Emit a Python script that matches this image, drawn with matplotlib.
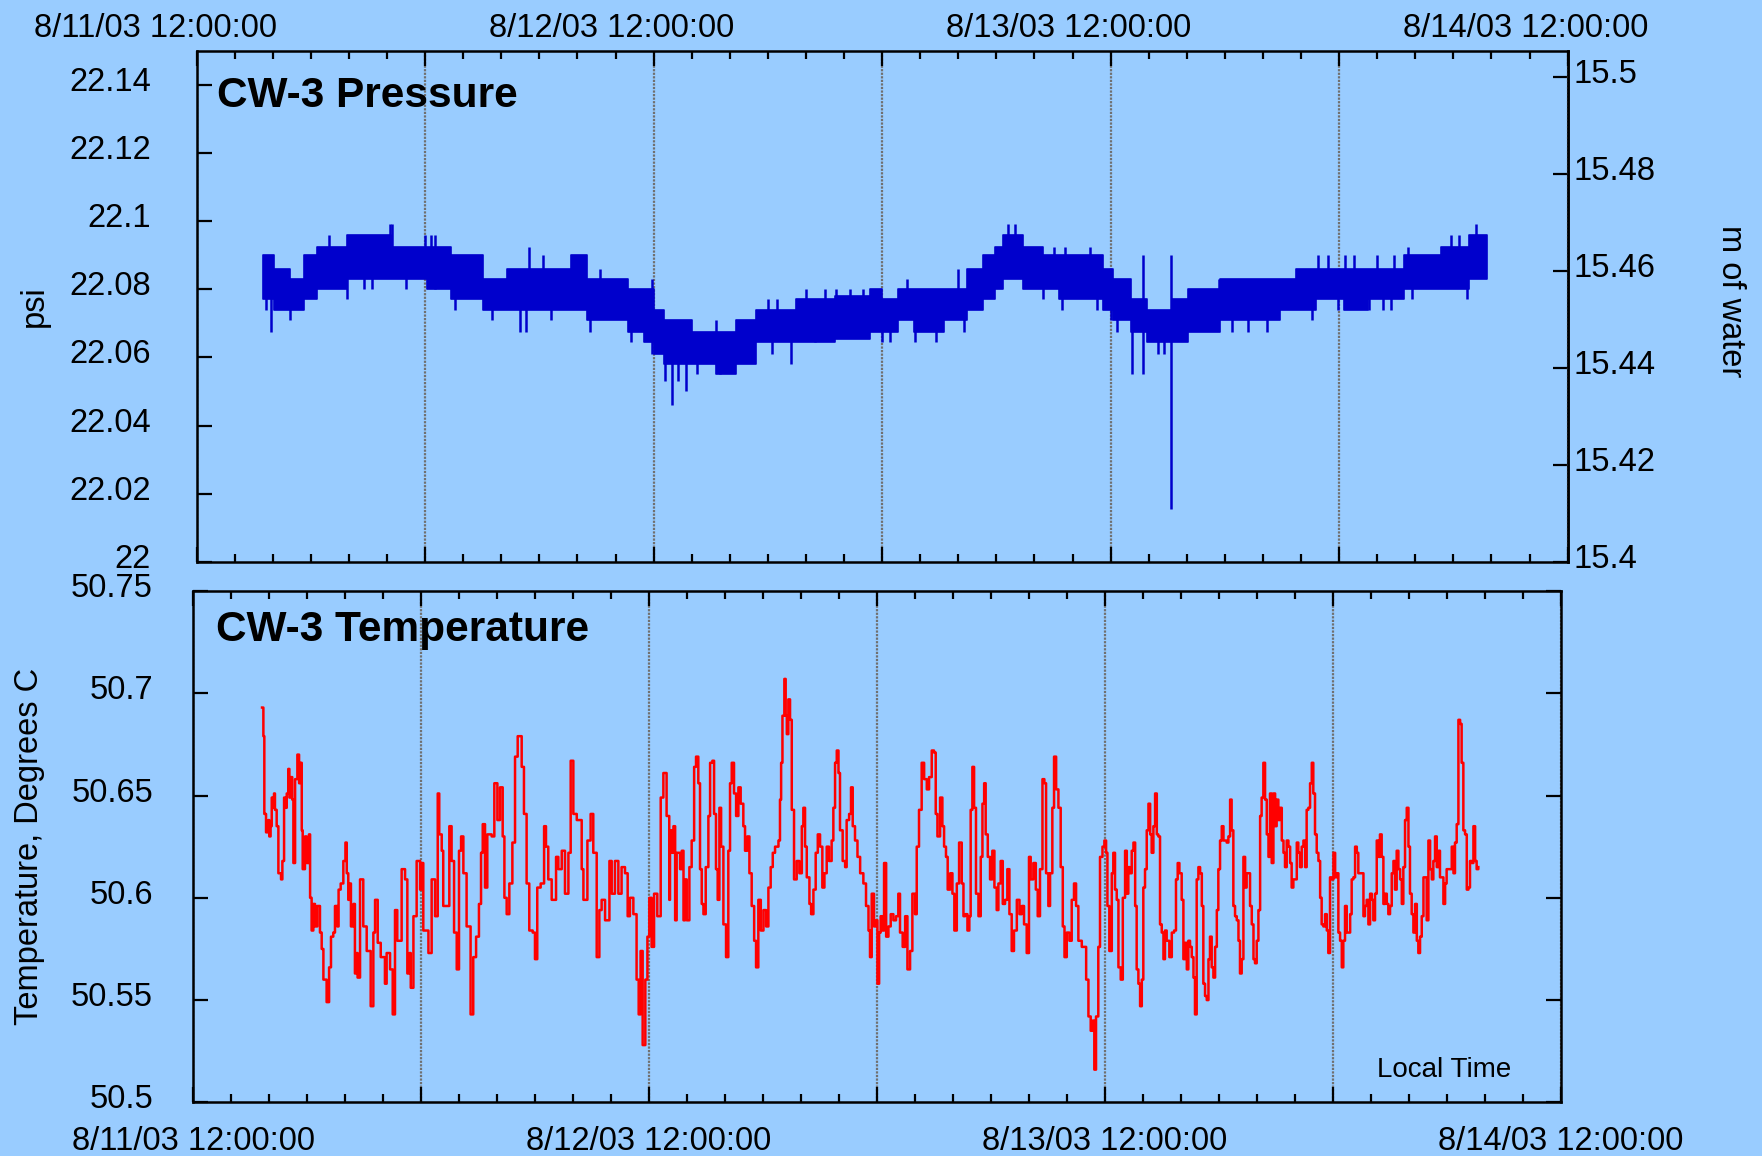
# IMPORTS
import numpy as np
import matplotlib
matplotlib.use("Agg")
import matplotlib.pyplot as plt
import matplotlib.dates as mdates
from matplotlib.ticker import FuncFormatter, FormatStrFormatter, FixedLocator
from matplotlib.transforms import ScaledTranslation

# CONSTANTS
WIDTH = 1762
HEIGHT = 1156
DPI = 100

BG = "#99CCFF"
BLUE = "#0000CC"
RED = "#FF0000"
GRID = "#707070"
TICK_SIZE = 23.5

START = np.datetime64("2003-08-11T12:00")
END = np.datetime64("2003-08-14T12:00")

# Pressure (psi): hours after 8/11/03 12:00, band of the quantised signal
P_HOURS = [3.50, 4.07, 4.92, 5.66, 6.30, 7.88, 10.19, 12.09, 13.36, 15.04,
           16.31, 19.68, 20.52, 22.63, 23.48, 24.01, 24.53, 26.0, 27.27, 28.33,
           29.38, 31.49, 33.5, 35.37, 36.0, 36.85, 37.69, 39.27, 40.43, 41.28,
           41.91, 42.33, 43.39, 44.44, 45.29, 47.61, 48.14, 49.09, 49.93, 51.2,
           52.04, 53.73, 56.89, 57.74, 58.79, 60.27, 61.53, 63.43, 65.33, 66.81]
P_END = 67.76
P_HI = [22.090, 22.086, 22.083, 22.090, 22.0925, 22.096, 22.0925, 22.0925, 22.090, 22.083,
        22.086, 22.090, 22.083, 22.080, 22.080, 22.074, 22.071, 22.0675, 22.0675, 22.071,
        22.074, 22.077, 22.078, 22.080, 22.077, 22.080, 22.080, 22.080, 22.086, 22.090,
        22.0925, 22.096, 22.0925, 22.090, 22.090, 22.086, 22.083, 22.077, 22.074, 22.077,
        22.080, 22.083, 22.083, 22.086, 22.086, 22.086, 22.086, 22.090, 22.0925, 22.096]
P_LO = [22.077, 22.074, 22.074, 22.077, 22.080, 22.083, 22.083, 22.080, 22.077, 22.074,
        22.074, 22.074, 22.071, 22.0675, 22.0645, 22.061, 22.058, 22.058, 22.055, 22.058,
        22.0645, 22.0645, 22.0655, 22.0675, 22.0675, 22.071, 22.0675, 22.071, 22.074, 22.077,
        22.080, 22.083, 22.080, 22.080, 22.077, 22.074, 22.071, 22.0675, 22.0645, 22.0645,
        22.0675, 22.071, 22.074, 22.074, 22.077, 22.074, 22.077, 22.080, 22.080, 22.083]

# single readings sticking out of the band
SPIKE_HOURS = [6.93, 10.15, 10.28, 12.0, 12.3, 12.5, 13.05, 17.45, 18.2, 21.2,
               23.9, 27.27, 30.0, 30.5, 32.0, 33.0, 33.6, 34.3, 35.0, 37.3,
               40.0, 42.6, 43.0, 45.05, 45.6, 46.9, 49.68, 51.15, 53.7, 54.5,
               58.9, 59.4, 60.3, 60.8, 62.0, 62.9, 63.6, 65.85, 66.3, 67.2,
               3.63, 3.93, 4.92, 7.88, 8.8, 9.2, 11.0, 12.5, 13.56, 15.5,
               17.0, 17.3, 18.6, 20.65, 22.8, 23.9, 24.58, 24.98, 25.3, 25.7,
               26.3, 27.5, 30.2, 31.2, 32.5, 36.0, 36.4, 37.7, 38.85, 40.3,
               44.45, 45.45, 47.3, 48.0, 48.35, 49.13, 49.68, 50.5, 50.8, 51.15,
               54.35, 55.2, 56.2, 58.6, 59.95, 61.55, 62.3, 62.7, 63.85, 66.7]
SPIKE_VALUES = [22.096, 22.099, 22.099, 22.096, 22.096, 22.096, 22.0925, 22.0925, 22.090, 22.086,
                22.083, 22.071, 22.077, 22.077, 22.080, 22.080, 22.080, 22.080, 22.080, 22.083,
                22.086, 22.099, 22.099, 22.0925, 22.0925, 22.0925, 22.090, 22.090, 22.083, 22.083,
                22.090, 22.090, 22.090, 22.090, 22.090, 22.090, 22.0925, 22.096, 22.096, 22.099,
                22.074, 22.0675, 22.071, 22.077, 22.080, 22.080, 22.080, 22.080, 22.074, 22.071,
                22.0675, 22.0675, 22.071, 22.0675, 22.0645, 22.061, 22.053, 22.046, 22.053, 22.050,
                22.055, 22.055, 22.061, 22.058, 22.0645, 22.0645, 22.0645, 22.0645, 22.0645, 22.0675,
                22.077, 22.074, 22.074, 22.071, 22.0675, 22.055, 22.055, 22.061, 22.061, 22.0155,
                22.0675, 22.0675, 22.0675, 22.071, 22.074, 22.074, 22.074, 22.074, 22.077, 22.077]

# Temperature (deg C): hours after 8/11/03 12:00
T_HOURS = [
    3.62, 3.69, 3.74, 3.83, 3.95, 4.00, 4.07, 4.13, 4.18, 4.25, 4.30, 4.39, 4.48, 4.62, 4.69,
    4.78, 4.85, 4.92, 5.00, 5.06, 5.13, 5.21, 5.27, 5.36, 5.48, 5.57, 5.62, 5.71, 5.76, 5.88,
    5.97, 6.09, 6.15, 6.23, 6.32, 6.41, 6.53, 6.67, 6.76, 6.85, 7.02, 7.15, 7.25, 7.37, 7.46,
    7.58, 7.65, 7.76, 7.90, 8.01, 8.08, 8.16, 8.25, 8.30, 8.43, 8.51, 8.60, 8.65, 8.78, 8.95,
    9.13, 9.34, 9.48, 9.57, 9.71, 9.87, 10.09, 10.18, 10.36, 10.50, 10.62, 10.74, 10.97, 11.15,
    11.27, 11.38, 11.45, 11.59, 11.76, 11.94, 12.02, 12.11, 12.38, 12.55, 12.73, 12.87, 12.95,
    13.08, 13.16, 13.48, 13.60, 13.73, 13.87, 13.99, 14.10, 14.22, 14.39, 14.60, 14.74, 14.89,
    15.04, 15.15, 15.24, 15.36, 15.48, 15.71, 15.85, 16.01, 16.15, 16.29, 16.38, 16.50, 16.64,
    16.80, 16.94, 17.08, 17.29, 17.41, 17.55, 17.69, 17.87, 17.99, 18.11, 18.29, 18.47, 18.57,
    18.69, 18.87, 19.10, 19.22, 19.40, 19.57, 19.75, 19.87, 20.01, 20.19, 20.45, 20.54, 20.75,
    20.92, 21.06, 21.24, 21.38, 21.50, 21.68, 21.91, 22.03, 22.20, 22.38, 22.55, 22.73, 22.87,
    22.99, 23.17, 23.34, 23.45, 23.55, 23.66, 23.80, 23.91, 24.01, 24.13, 24.26, 24.43, 24.61,
    24.75, 24.92, 25.06, 25.10, 25.19, 25.28, 25.37, 25.45, 25.63, 25.72, 25.81, 25.89, 25.98,
    26.12, 26.24, 26.37, 26.47, 26.59, 26.68, 26.77, 26.86, 26.98, 27.12, 27.21, 27.33, 27.42,
    27.52, 27.61, 27.70, 27.79, 27.91, 28.05, 28.17, 28.26, 28.35, 28.47, 28.58, 28.70, 28.82,
    28.96, 29.05, 29.17, 29.28, 29.40, 29.53, 29.63, 29.75, 29.88, 30.02, 30.16, 30.28, 30.40,
    30.51, 30.63, 30.81, 30.89, 30.95, 31.02, 31.12, 31.19, 31.25, 31.33, 31.42, 31.51, 31.63,
    31.77, 31.91, 32.04, 32.12, 32.21, 32.30, 32.44, 32.53, 32.65, 32.77, 32.88, 33.00, 33.12,
    33.23, 33.35, 33.47, 33.61, 33.70, 33.79, 33.88, 33.97, 34.05, 34.19, 34.32, 34.40, 34.53,
    34.63, 34.72, 34.84, 34.97, 35.11, 35.28, 35.42, 35.55, 35.63, 35.72, 35.84, 35.95, 36.02,
    36.11, 36.19, 36.28, 36.37, 36.48, 36.60, 36.72, 36.86, 37.00, 37.12, 37.21, 37.35, 37.48,
    37.60, 37.74, 37.86, 38.00, 38.09, 38.21, 38.35, 38.48, 38.62, 38.74, 38.88, 39.00, 39.09,
    39.18, 39.32, 39.44, 39.53, 39.63, 39.72, 39.85, 39.97, 40.07, 40.20, 40.32, 40.46, 40.55,
    40.64, 40.76, 40.86, 40.93, 41.02, 41.11, 41.21, 41.34, 41.46, 41.55, 41.64, 41.72, 41.83,
    41.95, 42.07, 42.18, 42.30, 42.39, 42.51, 42.62, 42.74, 42.86, 42.97, 43.09, 43.21, 43.36,
    43.50, 43.62, 43.74, 43.88, 44.00, 44.09, 44.23, 44.36, 44.46, 44.58, 44.71, 44.81, 44.90,
    45.02, 45.11, 45.23, 45.32, 45.43, 45.55, 45.67, 45.78, 45.87, 45.99, 46.13, 46.25, 46.37,
    46.48, 46.60, 46.78, 47.01, 47.13, 47.25, 47.36, 47.44, 47.53, 47.65, 47.74, 47.87, 47.97,
    48.06, 48.13, 48.23, 48.36, 48.44, 48.53, 48.62, 48.71, 48.83, 48.94, 49.06, 49.15, 49.23,
    49.32, 49.41, 49.50, 49.59, 49.67, 49.76, 49.85, 49.94, 50.02, 50.11, 50.20, 50.29, 50.38,
    50.46, 50.55, 50.64, 50.73, 50.81, 50.90, 50.99, 51.08, 51.16, 51.25, 51.39, 51.52, 51.64,
    51.74, 51.83, 51.92, 52.04, 52.13, 52.22, 52.31, 52.39, 52.48, 52.57, 52.66, 52.74, 52.83,
    52.92, 53.01, 53.10, 53.18, 53.27, 53.36, 53.45, 53.53, 53.62, 53.71, 53.80, 53.89, 53.97,
    54.06, 54.15, 54.24, 54.41, 54.50, 54.59, 54.67, 54.76, 54.85, 54.94, 55.03, 55.11, 55.20,
    55.29, 55.38, 55.46, 55.64, 55.73, 55.82, 55.90, 55.99, 56.08, 56.17, 56.25, 56.34, 56.43,
    56.52, 56.61, 56.69, 56.78, 56.87, 56.96, 57.04, 57.13, 57.22, 57.31, 57.40, 57.48, 57.57,
    57.66, 57.75, 57.83, 57.92, 58.10, 58.18, 58.27, 58.36, 58.45, 58.54, 58.62, 58.71, 58.80,
    58.89, 58.97, 59.06, 59.15, 59.24, 59.33, 59.41, 59.50, 59.59, 59.68, 59.76, 59.85, 59.94,
    60.03, 60.12, 60.20, 60.29, 60.38, 60.47, 60.55, 60.64, 60.73, 60.91, 60.99, 61.08, 61.17,
    61.26, 61.34, 61.52, 61.61, 61.69, 61.78, 61.87, 61.96, 62.05, 62.13, 62.22, 62.31, 62.40,
    62.48, 62.57, 62.66, 62.75, 62.84, 62.92, 63.01, 63.10, 63.19, 63.27, 63.36, 63.45, 63.54,
    63.63, 63.71, 63.80, 63.89, 63.98, 64.06, 64.15, 64.24, 64.33, 64.42, 64.50, 64.59, 64.68,
    64.77, 64.94, 65.03, 65.12, 65.21, 65.29, 65.38, 65.47, 65.56, 65.64, 65.82, 65.91, 65.99,
    66.17, 66.26, 66.35, 66.43, 66.52, 66.61, 66.70, 66.78, 66.87, 66.96, 67.05, 67.14, 67.22,
    67.31, 67.40, 67.49, 67.57, 67.66]
T_VALUES = [
    50.693, 50.679, 50.641, 50.632, 50.638, 50.630, 50.635, 50.649, 50.644, 50.651, 50.643, 50.635, 50.612, 50.609, 50.618,
    50.649, 50.644, 50.651, 50.663, 50.649, 50.659, 50.648, 50.617, 50.658, 50.670, 50.656, 50.666, 50.633, 50.614, 50.630,
    50.617, 50.631, 50.600, 50.584, 50.597, 50.586, 50.596, 50.583, 50.575, 50.560, 50.549, 50.566, 50.581, 50.583, 50.596,
    50.586, 50.604, 50.607, 50.618, 50.627, 50.612, 50.599, 50.607, 50.586, 50.597, 50.563, 50.573, 50.561, 50.609, 50.586,
    50.574, 50.547, 50.583, 50.599, 50.578, 50.571, 50.558, 50.573, 50.565, 50.543, 50.594, 50.579, 50.614, 50.609,
    50.563, 50.573, 50.556, 50.591, 50.618, 50.604, 50.617, 50.584, 50.573, 50.609, 50.591, 50.651, 50.631,
    50.623, 50.596, 50.635, 50.618, 50.583, 50.565, 50.623, 50.630, 50.612, 50.586, 50.543, 50.571, 50.581,
    50.597, 50.622, 50.636, 50.605, 50.631, 50.630, 50.656, 50.638, 50.654, 50.630, 50.600, 50.592, 50.607,
    50.627, 50.669, 50.679, 50.664, 50.641, 50.607, 50.584, 50.583, 50.570, 50.605, 50.607, 50.635, 50.625,
    50.609, 50.599, 50.620, 50.614, 50.623, 50.602, 50.622, 50.667, 50.641, 50.638, 50.614, 50.599, 50.628,
    50.641, 50.622, 50.571, 50.594, 50.599, 50.589, 50.618, 50.602, 50.618, 50.602, 50.615, 50.612, 50.591,
    50.600, 50.592, 50.560, 50.543, 50.574, 50.528, 50.560, 50.581, 50.600, 50.576, 50.602, 50.591, 50.649,
    50.661, 50.640, 50.599, 50.633, 50.622, 50.635, 50.589, 50.622, 50.614, 50.623, 50.589, 50.609, 50.589,
    50.615, 50.628, 50.664, 50.669, 50.656, 50.614, 50.597, 50.592, 50.615, 50.640, 50.666, 50.667, 50.641,
    50.614, 50.599, 50.644, 50.625, 50.587, 50.571, 50.623, 50.656, 50.666, 50.651, 50.640, 50.654, 50.646,
    50.635, 50.623, 50.630, 50.612, 50.596, 50.579, 50.566, 50.599, 50.584, 50.594, 50.586, 50.605, 50.615,
    50.622, 50.625, 50.628, 50.648, 50.666, 50.689, 50.707, 50.689, 50.680, 50.697, 50.687, 50.643, 50.609,
    50.618, 50.612, 50.635, 50.644, 50.625, 50.610, 50.597, 50.592, 50.604, 50.622, 50.631, 50.625, 50.605,
    50.612, 50.625, 50.618, 50.628, 50.644, 50.666, 50.672, 50.661, 50.633, 50.618, 50.615, 50.638, 50.641,
    50.654, 50.635, 50.628, 50.620, 50.612, 50.607, 50.596, 50.584, 50.571, 50.602, 50.586, 50.589, 50.558,
    50.583, 50.591, 50.584, 50.617, 50.581, 50.586, 50.592, 50.589, 50.591, 50.602, 50.583, 50.576, 50.591,
    50.565, 50.574, 50.602, 50.592, 50.625, 50.643, 50.666, 50.658, 50.653, 50.659, 50.672, 50.671, 50.641,
    50.630, 50.649, 50.635, 50.625, 50.620, 50.604, 50.612, 50.602, 50.584, 50.607, 50.627, 50.607, 50.591,
    50.592, 50.584, 50.591, 50.643, 50.664, 50.644, 50.602, 50.591, 50.620, 50.646, 50.656, 50.631, 50.620,
    50.609, 50.623, 50.605, 50.594, 50.607, 50.618, 50.597, 50.599, 50.614, 50.592, 50.574, 50.584, 50.599,
    50.592, 50.596, 50.587, 50.573, 50.620, 50.609, 50.617, 50.604, 50.591, 50.614, 50.658, 50.656, 50.612,
    50.596, 50.612, 50.644, 50.669, 50.653, 50.644, 50.615, 50.586, 50.571, 50.583, 50.579, 50.599, 50.607,
    50.596, 50.579, 50.576, 50.560, 50.542, 50.535, 50.540, 50.516, 50.542, 50.576, 50.620, 50.625, 50.628,
    50.622, 50.596, 50.574, 50.612, 50.622, 50.604, 50.599, 50.566, 50.560, 50.600, 50.623, 50.602, 50.615,
    50.612, 50.623, 50.627, 50.596, 50.565, 50.558, 50.547, 50.560, 50.605, 50.614, 50.633, 50.646, 50.631,
    50.622, 50.635, 50.651, 50.631, 50.630, 50.587, 50.583, 50.570, 50.584, 50.579, 50.571, 50.583, 50.584,
    50.609, 50.617, 50.612, 50.599, 50.570, 50.578, 50.565, 50.579, 50.576, 50.571, 50.561, 50.543, 50.609,
    50.615, 50.612, 50.596, 50.558, 50.552, 50.550, 50.570, 50.581, 50.566, 50.561, 50.576, 50.594, 50.614,
    50.628, 50.635, 50.628, 50.627, 50.630, 50.648, 50.633, 50.596, 50.591, 50.589, 50.579, 50.563, 50.570,
    50.620, 50.605, 50.612, 50.596, 50.587, 50.570, 50.568, 50.579, 50.594, 50.640, 50.649, 50.666, 50.648,
    50.631, 50.620, 50.651, 50.617, 50.651, 50.635, 50.648, 50.638, 50.644, 50.628, 50.622, 50.615, 50.628,
    50.625, 50.617, 50.605, 50.609, 50.627, 50.622, 50.615, 50.625, 50.628, 50.615, 50.643, 50.644, 50.656,
    50.666, 50.651, 50.631, 50.622, 50.618, 50.600, 50.587, 50.586, 50.592, 50.584, 50.573, 50.610, 50.609,
    50.622, 50.610, 50.612, 50.583, 50.579, 50.566, 50.579, 50.596, 50.583, 50.592, 50.609, 50.610, 50.625,
    50.622, 50.612, 50.612, 50.591, 50.596, 50.599, 50.587, 50.602, 50.599, 50.589, 50.602, 50.628, 50.620,
    50.631, 50.620, 50.597, 50.602, 50.597, 50.592, 50.596, 50.612, 50.618, 50.604, 50.623, 50.614, 50.609,
    50.597, 50.615, 50.638, 50.644, 50.625, 50.602, 50.592, 50.583, 50.597, 50.579, 50.573, 50.581, 50.591,
    50.610, 50.589, 50.628, 50.614, 50.609, 50.618, 50.630, 50.615, 50.623, 50.610, 50.597, 50.607, 50.614,
    50.614, 50.625, 50.612, 50.627, 50.636, 50.687, 50.685, 50.666, 50.633, 50.631, 50.604, 50.605, 50.618,
    50.617, 50.635, 50.618, 50.614, 50.615]

PSI_TO_M = 0.70307  # metres of water per psi


# FUNCTIONS
def to_time(hours):
    secs = np.round(np.asarray(hours, dtype=float) * 3600).astype("int64")
    return START + secs.astype("timedelta64[s]")


def date_label(x, pos):
    d = mdates.num2date(x)
    if d.hour != 12:
        return ""
    return f"{d.month}/{d.day}/{d:%y} {d:%H:%M:%S}"


def style_axes(ax):
    ax.set_facecolor(BG)
    ax.set_xlim(START, END)
    ax.xaxis.set_major_locator(FixedLocator(mdates.date2num(to_time(np.arange(0, 73, 12)))))
    ax.xaxis.set_minor_locator(FixedLocator(mdates.date2num(to_time(np.arange(0, 73, 2)))))
    ax.xaxis.set_major_formatter(FuncFormatter(date_label))
    ax.yaxis.set_major_formatter(FormatStrFormatter("%g"))
    ax.set_axisbelow(True)
    ax.grid(True, axis="x", which="major", color=GRID, linestyle=(0, (1, 0.6)), linewidth=1.6)
    ax.tick_params(which="major", length=11, width=1.6, direction="in", labelsize=TICK_SIZE)
    ax.tick_params(which="minor", length=6, width=1.6, direction="in")
    for spine in ax.spines.values():
        spine.set_linewidth(1.8)


def shift_labels(labels, fig, dx_px, dy_px):
    offset = ScaledTranslation(dx_px / DPI, dy_px / DPI, fig.dpi_scale_trans)
    for label in labels:
        label.set_transform(label.get_transform() + offset)


# MAIN CODE
plt.rcParams["font.family"] = ["Liberation Sans", "DejaVu Sans"]

fig = plt.figure(figsize=(WIDTH / DPI, HEIGHT / DPI), dpi=DPI, facecolor=BG)
ax1 = fig.add_axes([0.1116, 0.5139, 0.7781, 0.4423])
ax2 = fig.add_axes([0.1097, 0.0464, 0.7761, 0.4424])

# --- pressure panel
style_axes(ax1)
p_time = to_time(list(P_HOURS) + [P_END])
p_lo = np.append(P_LO, P_LO[-1])
p_hi = np.append(P_HI, P_HI[-1])
ax1.fill_between(p_time, p_lo, p_hi, step="post", color=BLUE, linewidth=1.2,
                 edgecolor=BLUE, zorder=3)

seg = np.clip(np.searchsorted(P_HOURS, SPIKE_HOURS, side="right") - 1, 0, len(P_HOURS) - 1)
spike_base = (np.array(P_LO)[seg] + np.array(P_HI)[seg]) / 2
ax1.vlines(to_time(SPIKE_HOURS), spike_base, SPIKE_VALUES, color=BLUE, linewidth=1.8, zorder=3)

ax1.set_ylim(22, 22.15)
ax1.set_yticks(np.arange(22, 22.141, 0.02))
ax1.tick_params(axis="x", which="both", bottom=True, top=True, labelbottom=False, labeltop=True)
ax1.tick_params(axis="x", which="major", pad=5)
ax1.tick_params(axis="y", left=True, right=False, pad=33)
ax1.text(0.015, 0.912, "CW-3 Pressure", transform=ax1.transAxes, fontsize=30.5,
         fontweight="bold", ha="left", va="center", zorder=5)
ax1.text(-0.1186, 0.5, "psi", transform=ax1.transAxes, fontsize=TICK_SIZE,
         rotation=90, ha="center", va="center")

sec = ax1.secondary_yaxis("right", functions=(lambda p: 15.4 + (p - 22) * PSI_TO_M,
                                               lambda m: 22 + (m - 15.4) / PSI_TO_M))
sec.set_yticks(np.arange(15.4, 15.501, 0.02))
sec.yaxis.set_major_formatter(FormatStrFormatter("%g"))
sec.tick_params(direction="in", length=11, width=1.6, pad=4, labelsize=TICK_SIZE)
sec.spines["right"].set_linewidth(1.8)
ax1.text(1.1186, 0.51, "m of water", transform=ax1.transAxes, fontsize=TICK_SIZE,
         rotation=270, ha="center", va="center")

# --- temperature panel
style_axes(ax2)
ax2.plot(to_time(T_HOURS), T_VALUES, drawstyle="steps-post", color=RED, linewidth=1.8, zorder=3)
ax2.set_ylim(50.5, 50.75)
ax2.set_yticks(np.arange(50.5, 50.751, 0.05))
ax2.tick_params(axis="x", which="both", bottom=True, top=True, labelbottom=True, labeltop=False)
ax2.tick_params(axis="x", which="major", pad=17)
ax2.tick_params(axis="y", which="both", left=True, right=True, labelright=False, pad=29)
ax2.text(0.0164, 0.923, "CW-3 Temperature", transform=ax2.transAxes, fontsize=30.5,
         fontweight="bold", ha="left", va="center", zorder=5)
ax2.text(-0.1198, 0.5, "Temperature, Degrees C", transform=ax2.transAxes, fontsize=TICK_SIZE,
         rotation=90, ha="center", va="center")
ax2.text(0.915, 0.063, "Local Time", transform=ax2.transAxes, fontsize=20,
         ha="center", va="center", zorder=5)

# nudge tick labels like the original layout
fig.canvas.draw()
shift_labels([t.label2 for t in ax1.xaxis.get_major_ticks()], fig, -41.6, 0)
shift_labels([t.label1 for t in ax1.yaxis.get_major_ticks()], fig, 0, 6)
shift_labels([t.label2 for t in sec.yaxis.get_major_ticks()], fig, 0, 6)
shift_labels([t.label1 for t in ax2.yaxis.get_major_ticks()], fig, 0, 6)

fig.savefig("out.png", dpi=DPI, facecolor=BG)
plt.close()
